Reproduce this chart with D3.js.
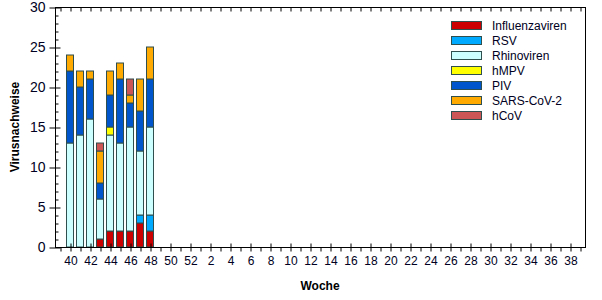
<!DOCTYPE html>
<html>
<head>
<meta charset="utf-8">
<script src="https://cdn.jsdelivr.net/npm/d3@7"></script>
<style>
  body { margin: 0; background: #fff; }
  text { font-family: "Liberation Sans", Arial, sans-serif; }
</style>
</head>
<body>
<script>

const W = 602;
const H = 300;

// weeks 40..52, then 1..39
const weeks = d3.range(40, 53).concat(d3.range(1, 40));

const viruses = ["Influenzaviren", "RSV", "Rhinoviren", "hMPV", "PIV", "SARS-CoV-2", "hCoV"];
const colors = ["#cc0000", "#00aaff", "#ccffff", "#ffff00", "#0055cc", "#ffaa00", "#cc5555"];

// counts per week (weeks 40..48), stack order bottom -> top
const influenza = [0, 0, 0, 1, 2, 2, 2, 3, 2];
const rsv       = [0, 0, 0, 0, 0, 0, 0, 1, 2];
const rhino     = [13, 14, 16, 5, 12, 11, 13, 8, 11];
const hmpv      = [0, 0, 0, 0, 1, 0, 0, 0, 0];
const piv       = [9, 6, 5, 2, 4, 8, 3, 5, 6];
const sars      = [2, 2, 1, 4, 3, 2, 1, 4, 4];
const hcov      = [0, 0, 0, 1, 0, 0, 2, 0, 0];

const series = [influenza, rsv, rhino, hmpv, piv, sars, hcov];

const rows = weeks.map((w, i) => {
  const r = {idx: i, week: w};
  viruses.forEach((v, k) => r[v] = series[k][i] || 0);
  return r;
});

const pL = 55, pR = 585, pT = 7, pB = 247;

const svg = d3.select("body").append("svg")
.attr("width", W)
.attr("height", H);

const x = d3.scaleLinear()
.domain([-1.5, 51.5])
.range([pL, pR]);

const y = d3.scaleLinear()
.domain([0, 30])
.range([pB, pT]);

const stack = d3.stack().keys(viruses)(rows);

const bw = 7;

svg.append("g")
.selectAll("g")
.data(stack)
.join("g")
.attr("fill", (d, i) => colors[i])
.selectAll("rect")
.data(d => d.filter(p => p[1] > p[0]))
.join("rect")
.attr("x", d => x(d.data.idx) - bw / 2)
.attr("y", d => y(d[1]))
.attr("width", bw)
.attr("height", d => y(d[0]) - y(d[1]))
.attr("stroke", "#2f4f4f")
.attr("stroke-width", 1);

// frame
svg.append("rect")
.attr("x", pL + 0.5)
.attr("y", pT + 0.5)
.attr("width", pR - pL)
.attr("height", pB - pT)
.attr("fill", "none")
.attr("stroke", "#000");

const idxs = d3.range(-1, 52);

// bottom axis
const xAxis = d3.axisBottom(x)
.tickValues(idxs)
.tickSize(4)
.tickFormat(i => (i >= 0 && i % 2 == 0) ? weeks[i] : "");

const gx = svg.append("g")
.attr("transform", `translate(0.5,${pB + 0.5})`)
.call(xAxis);
gx.select(".domain").remove();
gx.selectAll(".tick line")
.attr("y1", i => (i >= 0 && i % 2 == 0) ? -4 : 0);
gx.selectAll(".tick text")
.attr("y", 9)
.attr("fill", "#000022")
.style("font-size", "12px");

// top ticks
const xTop = d3.axisTop(x).tickValues(idxs).tickSize(-4).tickFormat("");
const gt = svg.append("g")
.attr("transform", `translate(0.5,${pT + 0.5})`)
.call(xTop);
gt.select(".domain").remove();

// left axis
const yAxis = d3.axisLeft(y)
.tickValues(d3.range(0, 31))
.tickSize(-3)
.tickFormat(d => d % 5 == 0 ? d : "");

const gy = svg.append("g")
.attr("transform", `translate(${pL + 0.5},0.5)`)
.call(yAxis);
gy.select(".domain").remove();
gy.selectAll(".tick line")
.attr("x1", d => d % 5 == 0 ? -6 : 0)
.attr("x2", d => d % 5 == 0 ? 5 : 3);
gy.selectAll(".tick text")
.attr("x", -10)
.attr("fill", "#000022")
.style("font-size", "14px");

svg.append("text")
.text("Virusnachweise")
.attr("transform", `translate(19, ${(pT + pB) / 2}) rotate(-90)`)
.attr("text-anchor", "middle")
.style("font-size", "12px")
.style("font-weight", "bold");

svg.append("text")
.text("Woche")
.attr("x", (pL + pR) / 2)
.attr("y", 290)
.attr("text-anchor", "middle")
.style("font-size", "12px")
.style("font-weight", "bold");

// legend
const legend = svg.append("g").attr("id", "legend");

legend.selectAll("rect")
.data(viruses)
.join("rect")
.attr("x", 451.5)
.attr("y", (d, i) => 21.5 + i * 15)
.attr("width", 30)
.attr("height", 8)
.attr("fill", (d, i) => colors[i])
.attr("stroke", "#2f4f4f");

legend.selectAll("text")
.data(viruses)
.join("text")
.text(d => d)
.attr("x", 492)
.attr("y", (d, i) => 30 + i * 15)
.attr("fill", "#000022")
.style("font-size", "12px");

</script>
</body>
</html>
